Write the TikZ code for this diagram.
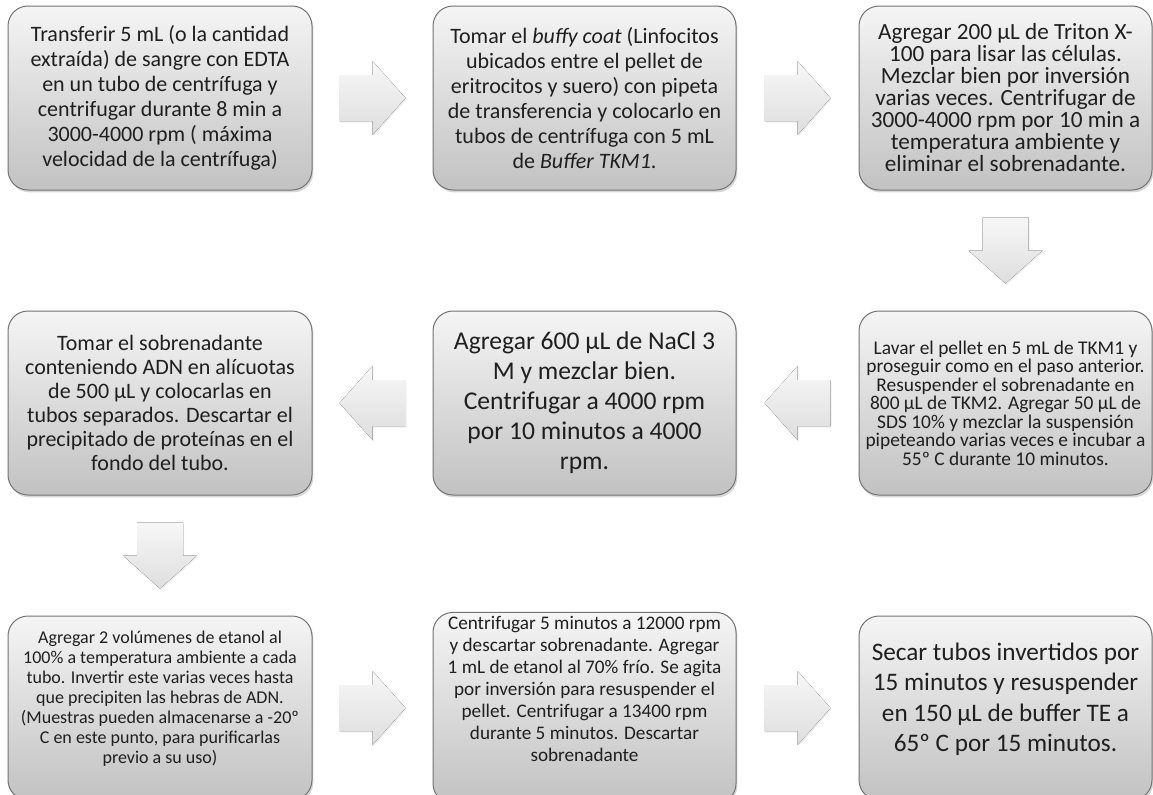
\documentclass[tikz,border=0pt]{standalone}
\usepackage{fontspec}
\setmainfont{Carlito}
\usetikzlibrary{shapes,arrows,positioning,calc,shadows}

\tikzset{
	paso/.style={draw=black!55, line width=0.5pt, rounded corners=10pt,
		top color=black!4, bottom color=black!24, text=black!88,
		align=center, inner sep=2pt, minimum height=92pt,
		drop shadow={shadow xshift=0.7pt, shadow yshift=-1.2pt, opacity=0.3}},
	flecha/.pic={
		\fill[top color=black!3, bottom color=black!13,
			drop shadow={shadow xshift=0.5pt, shadow yshift=-0.8pt, opacity=0.12}]
			(-33,-23) -- (0,-23) -- (0,-37) -- (33,0) -- (0,37) -- (0,23) -- (-33,23) -- cycle;
	}
}

\begin{document}
\begin{tikzpicture}[x=0.5pt,y=-0.5pt]
		\useasboundingbox (0,0) rectangle (1153,794);
		\fill[white] (0,0) rectangle (1153,794);
		\clip (0,0) rectangle (1153,794);

		% primera fila
		\node[paso, minimum width=152pt, font={\fontsize{11}{12.5}\selectfont}] (p1) at (160,98)
		{Transferir 5 mL (o la cantidad\\ extraída) de sangre con EDTA\\ en un tubo de centrífuga y\\ centrifugar durante 8 min a\\ 3000-4000 rpm ( máxima\\ velocidad de la centrífuga)};
		\node[paso, minimum width=151.5pt, font={\fontsize{11}{12.5}\selectfont}, right=60pt of p1] (p2)
		{Tomar el \textit{buffy coat} (Linfocitos\\ ubicados entre el pellet de\\ eritrocitos y suero) con pipeta\\ de transferencia y colocarlo en\\ tubos de centrífuga con 5 mL\\ de \textit{Buffer TKM1}.};
		\node[paso, minimum width=146.5pt, font={\fontsize{11.6}{11}\selectfont}, right=61pt of p2] (p3)
		{Agregar 200 µL de Triton X-\\ 100 para lisar las células.\\ Mezclar bien por inversión\\ varias veces. Centrifugar de\\ 3000-4000 rpm por 10 min a\\ temperatura ambiente y\\ eliminar el sobrenadante.};

		% segunda fila (de derecha a izquierda)
		\node[paso, minimum width=146.5pt, font={\fontsize{9.7}{9.25}\selectfont}, below=60pt of p3] (p4)
		{Lavar el pellet en 5 mL de TKM1 y\\ proseguir como en el paso anterior.\\ Resuspender el sobrenadante en\\ 800 µL de TKM2. Agregar 50 µL de\\ SDS 10\% y mezclar la suspensión\\ pipeteando varias veces e incubar a\\ 55º C durante 10 minutos.};
		\node[paso, minimum width=151.5pt, font={\fontsize{12.8}{15}\selectfont}, left=61pt of p4] (p5)
		{Agregar 600 µL de NaCl 3\\ M y mezclar bien.\\ Centrifugar a 4000 rpm\\ por 10 minutos a 4000\\ rpm.};
		\node[paso, minimum width=152pt, font={\fontsize{11}{12}\selectfont}, left=60pt of p5] (p6)
		{Tomar el sobrenadante\\ conteniendo ADN en alícuotas\\ de 500 µL y colocarlas en\\ tubos separados. Descartar el\\ precipitado de proteínas en el\\ fondo del tubo.};

		% tercera fila
		\node[paso, minimum width=152pt, font={\fontsize{9}{10}\selectfont}, text depth=11pt, below=60pt of p6] (p7)
		{Agregar 2 volúmenes de etanol al\\ 100\% a temperatura ambiente a cada\\ tubo. Invertir este varias veces hasta\\ que precipiten las hebras de ADN.\\ (Muestras pueden almacenarse a -20º\\ C en este punto, para purificarlas\\ previo a su uso)};
		\node[paso, minimum width=151.5pt, font={\fontsize{9.6}{11}\selectfont}, text depth=19pt, right=60pt of p7] (p8)
		{Centrifugar 5 minutos a 12000 rpm\\ y descartar sobrenadante. Agregar\\ 1 mL de etanol al 70\% frío. Se agita\\ por inversión para resuspender el\\ pellet. Centrifugar a 13400 rpm\\ durante 5 minutos. Descartar\\ sobrenadante};
		\node[paso, minimum width=146.5pt, font={\fontsize{12.6}{15.25}\selectfont}, text depth=11pt, right=61pt of p8] (p9)
		{Secar tubos invertidos por\\ 15 minutos y resuspender\\ en 150 µL de buffer TE a\\ 65º C por 15 minutos.};

		% flechas
		\pic at ($(p1.east)!.5!(p2.west)$) {flecha};
		\pic at ($(p2.east)!.5!(p3.west)$) {flecha};
		\pic[rotate=-90] at ($(p3.south)!.5!(p4.north)$) {flecha};
		\pic[rotate=180] at ($(p4.west)!.5!(p5.east)$) {flecha};
		\pic[rotate=180] at ($(p5.west)!.5!(p6.east)$) {flecha};
		\pic[rotate=-90] at ($(p6.south)!.5!(p7.north)$) {flecha};
		\pic at ($(p7.east)!.5!(p8.west)$) {flecha};
		\pic at ($(p8.east)!.5!(p9.west)$) {flecha};
	\end{tikzpicture}
\end{document}
